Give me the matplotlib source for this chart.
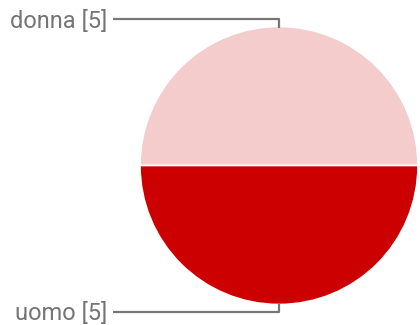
import numpy as np
import matplotlib
matplotlib.use("Agg")
import matplotlib.pyplot as plt

# ─── Data ───────────────────────────────────────────────
labels = ["donna", "uomo"]
counts = [5, 5]
colors = ["#f4cccc", "#cc0000"]

# ─── Figure in pixel coords (y up) ──────────────────────
W, H = 420, 325
fig = plt.figure(figsize=(W / 100, H / 100), dpi=100)
ax = fig.add_axes([0, 0, 1, 1])

cx, cy, r = 279, H - 165.5, 139
wedges, _ = ax.pie(
    counts, colors=colors, startangle=0, counterclock=True,
    center=(cx, cy), radius=r, frame=True,
    wedgeprops=dict(edgecolor="white", linewidth=1.2),
)
ax.set_xlim(0, W)
ax.set_ylim(0, H)
ax.set_aspect("equal")
ax.axis("off")

# leader lines + labels
line_col = "#777777"
text_col = "#757575"
for w, lab, n in zip(wedges, labels, counts):
    mid = np.deg2rad((w.theta1 + w.theta2) / 2)
    sign = np.sign(np.sin(mid))
    px, py = cx + r * np.cos(mid), cy + r * np.sin(mid)
    ly = py + sign * 7.5
    ax.plot([px, px, 113], [py - sign * 1, ly, ly], color=line_col, lw=1.6,
            solid_capstyle="butt")
    ax.text(107, ly - 2, f"{lab} [{n}]", ha="right", va="center",
            fontsize=17, color=text_col, family="Roboto")

fig.savefig("out.png", dpi=100)
